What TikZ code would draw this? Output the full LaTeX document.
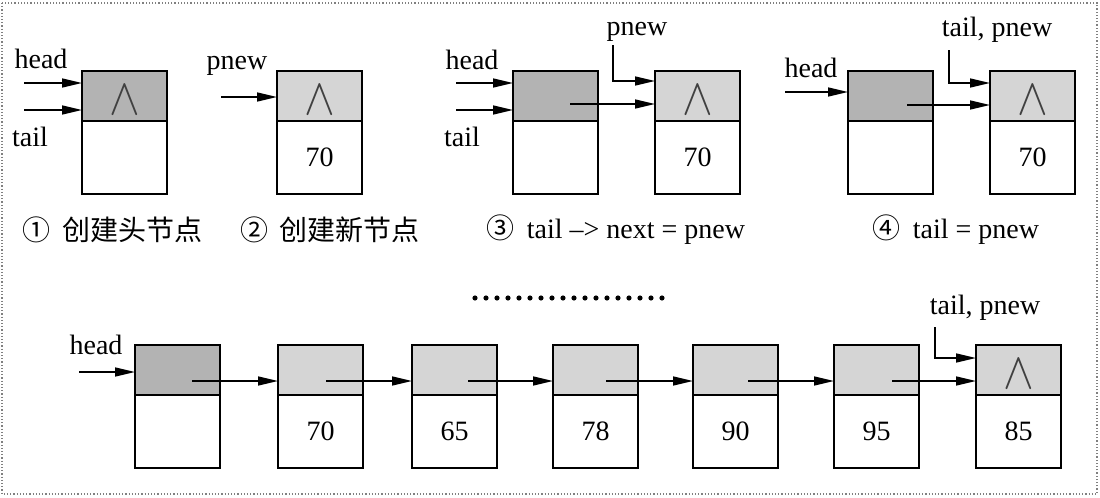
\documentclass[tikz,border=0pt]{standalone}
\usepackage{fontspec}
\setmainfont{Liberation Serif}
\newfontfamily\cjk{Noto Sans CJK SC}
\usepackage{tikz}
\usetikzlibrary{positioning,calc,arrows.meta}
\definecolor{headgray}{HTML}{B3B3B3}
\definecolor{nodegray}{HTML}{D5D5D5}
\newcommand{\nullmark}{\scalebox{1.6}[1.8]{$\wedge$}}

\begin{document}
\begin{tikzpicture}[x=0.5pt,y=-0.5pt,
        font=\fontsize{14}{16}\selectfont,
        ptr/.style={draw, line width=0.9pt, fill=nodegray, minimum width=42.5pt, minimum height=25pt,
            inner sep=0pt, outer sep=0pt, anchor=north west},
        hptr/.style={ptr, fill=headgray},
        dat/.style={draw, line width=0.9pt, fill=white, minimum width=42.5pt, minimum height=36.5pt,
            inner sep=0pt, outer sep=0pt, below=0pt of #1},
        nul/.style={text=black!75, inner sep=0pt},
        arr/.style={line width=0.8pt, -{Triangle[length=10pt,width=4.5pt]}}]
        \useasboundingbox (0,0) rectangle (1100,498);
        % Frame
        \draw[gray, densely dotted, line width=0.6pt] (2,3) rectangle (1097,494);

        % (1) create head node
        \node[hptr] (p1) at (82,71) {};
        \node[dat=p1] (d1) {};
        \node[nul] (z1) at ([yshift=-2pt]p1.center) {\nullmark};
        \coordinate (h1) at (24,83);
        \coordinate (t1) at (24,110);
        \draw[arr] (h1) -- (h1 -| p1.west);
        \draw[arr] (t1) -- (t1 -| p1.west);
        \node (lh1) at (41,59) {head};
        \node (lt1) at (30,137) {tail};
        \node (c1) at (113,230) {{\cjk ①}\hspace{6pt}{\cjk 创建头节点}};

        % (2) create new node
        \node[ptr] (p2) at (277,71) {};
        \node[dat=p2] (d2) {70};
        \node[nul] (z2) at ([yshift=-2pt]p2.center) {\nullmark};
        \coordinate (w2) at (221,97);
        \draw[arr] (w2) -- (w2 -| p2.west);
        \node (lw2) at (237,66) {pnew};
        \node (c2) at (330,230) {{\cjk ②}\hspace{6pt}{\cjk 创建新节点}};

        % (3) link
        \node[hptr] (p3a) at (513,71) {};
        \node[dat=p3a] (d3a) {};
        \node[ptr] (p3b) at (655,71) {};
        \node[dat=p3b] (d3b) {70};
        \node[nul] (z3) at ([yshift=-2pt]p3b.center) {\nullmark};
        \coordinate (h3) at (456,83);
        \coordinate (t3) at (456,110);
        \draw[arr] (h3) -- (h3 -| p3a.west);
        \draw[arr] (t3) -- (t3 -| p3a.west);
        \node (lh3) at (472,60) {head};
        \node (lt3) at (462,137) {tail};
        \coordinate (k3) at (613,45);
        \coordinate (k3e) at (613,81);
        \draw[arr] (k3) -- (k3e) -- (k3e -| p3b.west);
        \node (lw3) at (637,32) {pnew};
        \coordinate (n3) at (570,104);
        \draw[arr] (n3) -- (n3 -| p3b.west);
        \node (c3) at (616,230) {{\cjk ③}\hspace{6pt}tail --> next = pnew};

        % (4) move tail
        \node[hptr] (p4a) at (848,71) {};
        \node[dat=p4a] (d4a) {};
        \node[ptr] (p4b) at (990,71) {};
        \node[dat=p4b] (d4b) {70};
        \node[nul] (z4) at ([yshift=-2pt]p4b.center) {\nullmark};
        \coordinate (h4) at (785,92);
        \draw[arr] (h4) -- (h4 -| p4a.west);
        \node (lh4) at (811,68) {head};
        \coordinate (k4) at (949,50);
        \coordinate (k4e) at (949,83);
        \draw[arr] (k4) -- (k4e) -- (k4e -| p4b.west);
        \node (lw4) at (997,30) {tail, pnew};
        \coordinate (n4) at (907,105);
        \draw[arr] (n4) -- (n4 -| p4b.west);
        \node (c4) at (956,230) {{\cjk ④}\hspace{6pt}tail = pnew};

        % Dots
        \draw[line width=2.6pt, line cap=round, dash pattern=on 0pt off 5.5pt] (475,298) -- (663,298);

        % Whole list
        \node[hptr] (q0) at (135,345) {};
        \node[dat=q0] (e0) {};
        \node[ptr] (q1) at (278,345) {};
        \node[dat=q1] (e1) {70};
        \node[ptr] (q2) at (412,345) {};
        \node[dat=q2] (e2) {65};
        \node[ptr] (q3) at (553,345) {};
        \node[dat=q3] (e3) {78};
        \node[ptr] (q4) at (693,345) {};
        \node[dat=q4] (e4) {90};
        \node[ptr] (q5) at (834,345) {};
        \node[dat=q5] (e5) {95};
        \node[ptr] (q6) at (976,345) {};
        \node[dat=q6] (e6) {85};
        \node[nul] (z6) at ([yshift=-2pt]q6.center) {\nullmark};
        \coordinate (h5) at (79,372);
        \draw[arr] (h5) -- (h5 -| q0.west);
        \node (lh5) at (96,345) {head};
        \coordinate (m0) at (192,381);
        \coordinate (m1) at (326,381);
        \coordinate (m2) at (468,381);
        \coordinate (m3) at (606,381);
        \coordinate (m4) at (748,381);
        \coordinate (m5) at (892,381);
        \draw[arr] (m0) -- (m0 -| q1.west);
        \draw[arr] (m1) -- (m1 -| q2.west);
        \draw[arr] (m2) -- (m2 -| q3.west);
        \draw[arr] (m3) -- (m3 -| q4.west);
        \draw[arr] (m4) -- (m4 -| q5.west);
        \draw[arr] (m5) -- (m5 -| q6.west);
        \coordinate (k6) at (935,327);
        \coordinate (k6e) at (935,358);
        \draw[arr] (k6) -- (k6e) -- (k6e -| q6.west);
        \node (lw6) at (985,308) {tail, pnew};
    \end{tikzpicture}
\end{document}
